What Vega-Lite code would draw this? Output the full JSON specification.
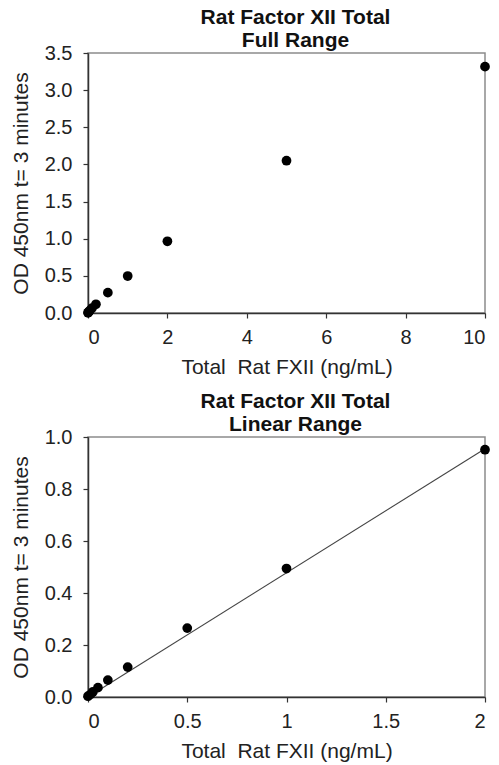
{
  "$schema": "https://vega.github.io/schema/vega-lite/v6.json",
  "padding": {"left": 9, "top": 6, "right": 4, "bottom": 2},
  "spacing": 12,
  "background": "white",
  "config": {
    "font": "Liberation Sans",
    "view": {"stroke": "#8c8c8c", "strokeWidth": 1.5},
    "axis": {
      "grid": false,
      "domainColor": "#333333",
      "domainWidth": 1.5,
      "tickColor": "#333333",
      "tickSize": 5,
      "tickWidth": 1.2,
      "labelFont": "Liberation Sans",
      "labelFontSize": 20,
      "labelColor": "#222222",
      "titleFont": "Liberation Sans",
      "titleFontSize": 21,
      "titleFontWeight": "normal",
      "titleColor": "#222222"
    },
    "axisY": {"labelPadding": 11, "titlePadding": 13},
    "axisX": {"labelPadding": 9, "titlePadding": 9},
    "title": {"font": "Liberation Sans", "fontSize": 21, "fontWeight": "bold", "color": "#111111", "lineHeight": 23, "offset": -8, "anchor": "middle", "frame": "group", "dx": 9}
  },
  "datasets": {
    "full": [
      {"conc": 0, "od": 0.003},
      {"conc": 0.0125, "od": 0.01},
      {"conc": 0.025, "od": 0.02},
      {"conc": 0.05, "od": 0.036},
      {"conc": 0.1, "od": 0.065},
      {"conc": 0.2, "od": 0.117},
      {"conc": 0.5, "od": 0.274},
      {"conc": 1, "od": 0.498},
      {"conc": 2, "od": 0.965},
      {"conc": 5, "od": 2.05},
      {"conc": 10, "od": 3.316}
    ],
    "linear": [
      {"conc": 0, "od": 0.003},
      {"conc": 0.0125, "od": 0.01},
      {"conc": 0.025, "od": 0.02},
      {"conc": 0.05, "od": 0.036},
      {"conc": 0.1, "od": 0.065},
      {"conc": 0.2, "od": 0.115},
      {"conc": 0.5, "od": 0.265},
      {"conc": 1, "od": 0.494},
      {"conc": 2, "od": 0.951}
    ],
    "fit": [
      {"conc": 0, "od": 0.0},
      {"conc": 2, "od": 0.955}
    ]
  },
  "vconcat": [
    {
      "width": 397,
      "height": 260,
      "title": {"text": ["Rat Factor XII Total", "Full Range"]},
      "data": {"name": "full"},
      "mark": {"type": "point", "filled": true, "color": "black", "size": 95, "opacity": 1},
      "encoding": {
        "x": {"field": "conc", "type": "quantitative", "scale": {"domain": [0, 10], "nice": false}, "axis": {"values": [0, 2, 4, 6, 8, 10], "title": "Total\u00a0 Rat FXII (ng/mL)"}},
        "y": {"field": "od", "type": "quantitative", "scale": {"domain": [0, 3.5], "nice": false}, "axis": {"values": [0, 0.5, 1, 1.5, 2, 2.5, 3, 3.5], "format": ".1f", "title": "OD 450nm t= 3 minutes"}}
      }
    },
    {
      "width": 397,
      "height": 260,
      "title": {"text": ["Rat Factor XII Total", "Linear Range"]},
      "layer": [
        {
          "data": {"name": "fit"},
          "mark": {"type": "line", "color": "#444444", "strokeWidth": 1.1},
          "encoding": {
            "x": {"field": "conc", "type": "quantitative"},
            "y": {"field": "od", "type": "quantitative"}
          }
        },
        {
          "data": {"name": "linear"},
          "mark": {"type": "point", "filled": true, "color": "black", "size": 95, "opacity": 1},
          "encoding": {
            "x": {"field": "conc", "type": "quantitative", "scale": {"domain": [0, 2], "nice": false}, "axis": {"values": [0, 0.5, 1, 1.5, 2], "format": "~g", "title": "Total\u00a0 Rat FXII (ng/mL)"}},
            "y": {"field": "od", "type": "quantitative", "scale": {"domain": [0, 1], "nice": false}, "axis": {"values": [0, 0.2, 0.4, 0.6, 0.8, 1], "format": ".1f", "title": "OD 450nm t= 3 minutes"}}
          }
        }
      ]
    }
  ]
}
